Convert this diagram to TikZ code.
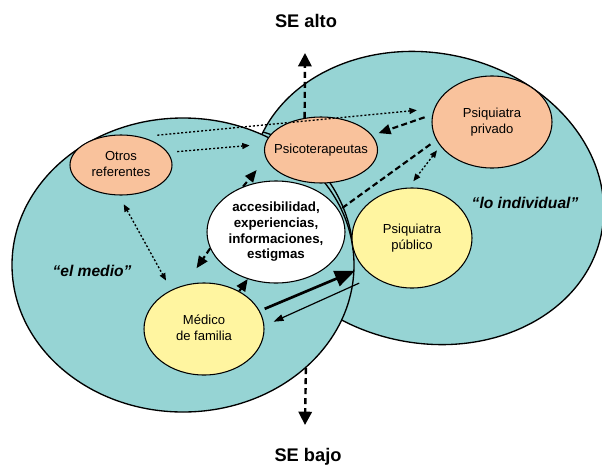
\documentclass[tikz,border=0pt]{standalone}
\usepackage{fontspec}
\setmainfont{Liberation Sans}
\usetikzlibrary{shapes.geometric,arrows.meta}
\definecolor{areacol}{HTML}{96D4D4}
\definecolor{orcol}{HTML}{F9C29C}
\definecolor{yelcol}{HTML}{FFF5A0}
\newcommand{\mkt}[1]{\makebox[0pt]{\begin{tabular}{@{}c@{}}#1\end{tabular}}}
\begin{document}
\begin{tikzpicture}[x=0.75pt,y=-0.75pt,
  bigarea/.style={ellipse, draw=black, line width=1pt, fill=areacol, inner sep=0pt},
  actor/.style={ellipse, draw=black, line width=0.8pt, inner sep=0pt, font=\fontsize{9.8}{12.5}\selectfont},
  ornode/.style={actor, fill=orcol},
  yenode/.style={actor, fill=yelcol},
  factnode/.style={actor, fill=white, font=\fontsize{10}{11.9}\selectfont\bfseries},
  zonelab/.style={font=\fontsize{11.7}{14}\selectfont\bfseries\itshape, anchor=base, inner sep=0pt},
  selab/.style={font=\fontsize{13.7}{16}\selectfont\bfseries, anchor=base, inner sep=0pt},
  dasharr/.style={line width=1.6pt, dash pattern=on 4.5pt off 2.5pt, -{Triangle[length=9pt,width=7.5pt]}},
  dashln/.style={line width=1.6pt, dash pattern=on 4.5pt off 2.5pt},
  searr/.style={line width=1.8pt, dash pattern=on 4.5pt off 3pt, -{Triangle[length=10pt,width=10pt]}},
  dotarr/.style={line width=1pt, dash pattern=on 1.5pt off 1.5pt, -{Triangle[length=5.5pt,width=4.5pt]}},
  dotdbl/.style={line width=1pt, dash pattern=on 1.5pt off 1.5pt, {Triangle[length=5.5pt,width=4.5pt]}-{Triangle[length=5.5pt,width=4.5pt]}},
  thickarr/.style={line width=2pt, -{Triangle[length=15pt,width=12pt]}},
  thinarr/.style={line width=0.9pt, -{Triangle[length=7.5pt,width=5pt]}},
]
\useasboundingbox (0,0) rectangle (602,464);
\clip (0,0) rectangle (602,464);
% areas
\node[bigarea, rotate=-12, minimum width=267pt, minimum height=217.5pt] (indiv) at (427,198) {};
\node[bigarea, minimum width=256.5pt, minimum height=220.5pt] (medio) at (183,265) {};
\draw[line width=1pt] (263,132) .. controls (310,145) and (350,195) .. (353,250);
% actors
\node[ornode, minimum width=76.5pt, minimum height=45pt] (otros) at (121,165) {\mkt{Otros\\referentes}};
\node[ornode, minimum width=84.75pt, minimum height=49.5pt] (psico) at (321,150) {\mkt{Psicoterapeutas}};
\node[ornode, minimum width=90pt, minimum height=69pt] (priv) at (492,122) {\mkt{Psiquiatra\\privado}};
\node[yenode, minimum width=90pt, minimum height=75pt] (publ) at (412,238) {\mkt{Psiquiatra\\público}};
\node[factnode, minimum width=103.5pt, minimum height=76.5pt] (fact) at (276,232) {\mkt{accesibilidad,\\experiencias,\\informaciones,\\estigmas}};
\node[yenode, minimum width=90pt, minimum height=69pt] (medico) at (204,329) {\mkt{Médico\\de familia}};
% labels
\node[selab] (sealto) at (306,27.5) {SE alto};
\node[selab] (sebajo) at (308,461) {SE bajo};
\node[zonelab] (medlab) at (92,276) {“el medio”};
\node[zonelab] (indlab) at (525,208) {“lo individual”};
\coordinate (upend) at (305,53);
\coordinate (downend) at (305,425);
% connectors
\draw[dotarr, shorten <=12.5pt, shorten >=13pt] (otros.55) -- (priv.167);
\draw[dotarr, shorten <=7pt, shorten >=11.5pt] (otros.15) -- (psico.174);
\draw[dotdbl, shorten <=7.5pt, shorten >=8pt] (otros.-94) -- (medico.130);
\draw[dasharr, shorten >=11pt] (fact.126) -- (psico.189);
\draw[dasharr, shorten >=15pt] (fact.194) -- (medico.113);
\draw[dasharr] (medico.47) -- (fact.-121);
\draw[dashln, shorten <=3pt, shorten >=3pt] (fact.19) -- (priv.198);
\draw[dasharr, shorten <=6pt, shorten >=5pt] (priv.173) -- (psico.16);
\draw[dotdbl, shorten <=4pt, shorten >=6pt] (priv.205) -- (publ.94);
\draw[thickarr, shorten <=4pt, shorten >=6.5pt] (medico.18) -- (publ.211);
\draw[thinarr, shorten <=11.5pt, shorten >=7.5pt] (publ.225) -- (medico.3);
\draw[searr] (psico.117) -- (upend);
\draw[searr] (medio.-40) -- (downend);
\end{tikzpicture}
\end{document}
